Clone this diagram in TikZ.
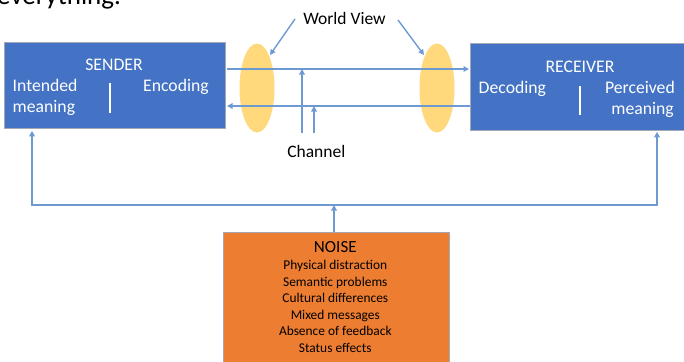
\documentclass[tikz,border=0pt]{standalone}
\usepackage{fontspec}
\setmainfont{Carlito}
\usetikzlibrary{arrows.meta,shapes.geometric}
\definecolor{boxblue}{HTML}{4472C4}
\definecolor{noiseorange}{HTML}{ED7D31}
\definecolor{wvyellow}{HTML}{FFD97C}
\definecolor{lineblue}{HTML}{6C9AD1}
\definecolor{edgegray}{HTML}{A3A9B4}
\begin{document}
\begin{tikzpicture}[x=1pt,y=-1pt,
  box/.style={rectangle, draw=edgegray, line width=0.8pt, anchor=north west, inner sep=0pt},
  wtxt/.style={text=white, font=\fontsize{17.7}{21}\selectfont, inner sep=0pt},
  btxt/.style={text=black, font=\fontsize{17.5}{21}\selectfont, inner sep=0pt, anchor=base},
  ntxt/.style={text=black, font=\fontsize{13.4}{16}\selectfont, inner sep=0pt, anchor=base},
  view/.style={ellipse, fill=wvyellow, draw=none, minimum width=35pt, minimum height=89pt, inner sep=0pt},
  conn/.style={draw=lineblue, line width=1.4pt},
  arr/.style={conn, -{Triangle[length=5.5pt,width=5.5pt]}},
  divider/.style={draw=white, line width=1.6pt}]
\useasboundingbox (0,0) rectangle (684,361);
\clip (0,0) rectangle (684,361);

% slide heading running off the top edge
\node[anchor=base west, inner sep=0pt, font=\fontsize{27}{30}\selectfont] (heading) at (-3,5) {everything.};

% sender and receiver
\node[box, fill=boxblue, minimum width=221pt, minimum height=86pt] (sender) at (4,42) {};
\node[box, fill=boxblue, minimum width=220pt, minimum height=87pt] (receiver) at (470,43) {};

\node[wtxt, anchor=base] (sendT) at (114,70.7) {SENDER};
\node[wtxt, anchor=base west] (intA) at (12.5,91.7) {Intended};
\node[wtxt, anchor=base west] (intB) at (12.5,112.7) {meaning};
\node[wtxt, anchor=base west] (enc) at (143,91.7) {Encoding};
\coordinate (sdA) at (110,83);
\coordinate (sdB) at (110,113);
\draw[divider] (sdA) -- (sdB);

\node[wtxt, anchor=base] (recT) at (580,72.7) {RECEIVER};
\node[wtxt, anchor=base west] (dec) at (478.5,93.3) {Decoding};
\node[wtxt, anchor=base east] (perA) at (675,93.3) {Perceived};
\node[wtxt, anchor=base east] (perB) at (674,114.5) {meaning};
\coordinate (rdA) at (580,86);
\coordinate (rdB) at (580,115);
\draw[divider] (rdA) -- (rdB);

% world-view filters
\node[view] (wvL) at (257,88) {};
\node[view] (wvR) at (437,88) {};
\node[btxt] (wv) at (344.5,25) {World View};
\coordinate (wvLs) at (295,19);
\coordinate (wvLe) at (270,55);
\coordinate (wvRs) at (398,20);
\coordinate (wvRe) at (424,55);
\draw[arr] (wvLs) -- (wvLe);
\draw[arr] (wvRs) -- (wvRe);

% message channel
\coordinate (tA) at (227,69);
\coordinate (tB) at (470,69);
\coordinate (bA) at (227,106);
\coordinate (bB) at (470,106);
\draw[arr, shorten >=1pt] (tA) -- (tB);
\draw[arr] (bB) -- (bA);
\coordinate (ch1) at (302,133);
\coordinate (ch2) at (314,133);
\draw[arr] (ch1) -- (ch1 |- tA);
\draw[arr] (ch2) -- (ch2 |- bA);
\node[btxt] (chan) at (316.3,157.7) {Channel};

% noise and its feedback into both ends
\node[box, fill=noiseorange, minimum width=226pt, minimum height=140pt] (noise) at (223,232) {};
\coordinate (fbL) at (32,205);
\coordinate (fbR) at (657,205);
\coordinate (fbM) at (334,205);
\draw[conn, {Triangle[length=5.5pt,width=5.5pt]}-{Triangle[length=5.5pt,width=5.5pt]}, shorten <=2pt, shorten >=1pt]
  (fbL |- sender.south) -- (fbL) -- (fbR) -- (fbR |- receiver.south);
\draw[arr] (noise.north -| fbM) -- (fbM);

\node[btxt, font=\fontsize{17}{20}\selectfont] (noiseT) at (335.3,252.7) {NOISE};
\node[ntxt] (n1) at (335.3,269.5) {Physical distraction};
\node[ntxt] (n2) at (335.3,286) {Semantic problems};
\node[ntxt] (n3) at (335.3,302.5) {Cultural differences};
\node[ntxt] (n4) at (335.3,319) {Mixed messages};
\node[ntxt] (n5) at (335.3,335.5) {Absence of feedback};
\node[ntxt] (n6) at (335.3,352) {Status effects};
\end{tikzpicture}
\end{document}
